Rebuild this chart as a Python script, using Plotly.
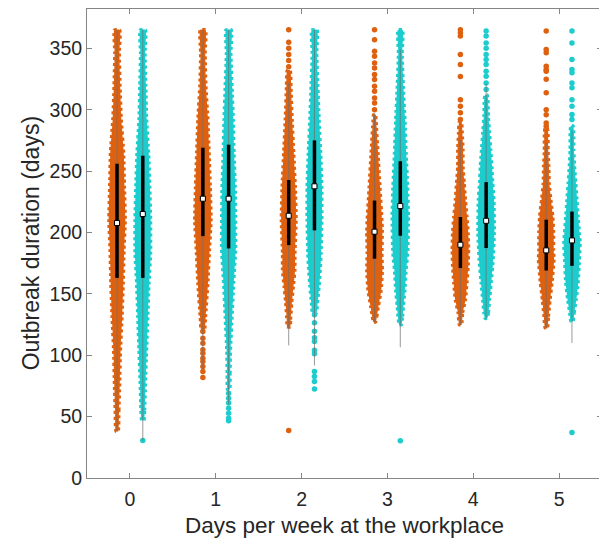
import plotly.graph_objects as go

# ---------------- data ----------------
days = [0, 1, 2, 3, 4, 5]
tick_labels = ["0", "1", "2", "3", "4", "5"]

# summary statistics (days)
median_orange = [207.7, 227.5, 213.6, 200.6, 190.0, 185.4]
q1_orange = [163.0, 197.0, 189.7, 178.6, 171.0, 169.0]
q3_orange = [256.0, 269.0, 242.7, 226.0, 212.6, 210.4]
whisk_lo_orange = [38.0, 89.0, 108.0, 127.0, 124.7, 122.0]
whisk_hi_orange = [365.0, 365.0, 322.0, 297.0, 275.5, 272.5]

median_cyan = [215.0, 227.5, 237.6, 221.5, 209.5, 193.5]
q1_cyan = [163.0, 187.0, 201.7, 197.3, 187.3, 172.8]
q3_cyan = [262.5, 271.5, 275.0, 258.0, 241.0, 217.0]
whisk_lo_cyan = [30.5, 60.0, 91.6, 106.5, 130.0, 110.0]
whisk_hi_cyan = [365.0, 365.0, 365.0, 349.0, 321.0, 283.0]

# density profiles: levels (days) and relative width
levels_orange = [
    [38, 55, 77, 104, 131.5, 159, 186, 210, 237.5, 265, 292, 319, 346.5, 365],
    [120, 131, 159, 186, 210, 237, 265, 292, 319, 346, 365],
    [123, 129, 142.7, 156, 169.6, 183, 210, 237, 265, 292, 319, 332],
    [127, 131.5, 139.7, 153, 169.6, 183, 200, 210, 237, 265, 292, 296],
    [124.7, 134.5, 145, 159, 172.3, 186, 199.7, 212.8, 226.7, 240.4, 253.8, 267.4, 281, 290],
    [122, 131.5, 145, 159, 177.8, 186, 200, 212.8, 226.7, 240, 254, 267, 281, 285],
]
dens_orange = [
    [3, 5, 7, 9, 13, 16, 18, 21, 19, 17, 11, 8, 6, 7],
    [4, 7, 13, 17, 21, 19, 16, 13, 8, 6, 7],
    [4, 5, 8, 12, 16, 16, 19, 17, 13, 9, 6, 4],
    [3, 6, 10, 17, 20, 19, 20, 19, 14, 9, 4, 3],
    [3, 6, 13, 17, 20, 21, 20, 17, 13, 10, 7, 7, 5, 3],
    [3, 6, 10, 15, 20, 19, 19, 17, 12, 8, 7, 5, 5, 3],
]
levels_cyan = [
    [47, 55, 77, 104, 131.5, 159, 183, 210, 237.5, 265, 292, 319, 346.5, 365],
    [72, 85, 104, 131, 159, 186, 210, 237, 265, 292, 319, 346, 365],
    [134.5, 142.7, 156, 169.6, 183, 210, 237, 265, 292, 319, 346, 365],
    [124.8, 131.5, 139.7, 153, 169.6, 183, 213, 237, 265, 292, 319, 346, 365],
    [130, 134.5, 145, 159, 177.8, 200, 226.7, 240.4, 253.8, 267.4, 281, 294.6, 308, 312],
    [127.5, 134.5, 145, 159, 177.8, 191.5, 200, 212.8, 226.7, 240, 254, 267, 281, 287],
]
dens_cyan = [
    [3, 5, 7, 10, 13, 16, 20, 20, 18, 15, 10, 8, 6, 7],
    [3, 4, 5, 9, 13, 18, 18, 17, 14, 12, 9, 6, 7],
    [5, 8, 12, 15, 17, 19, 19, 16, 12, 9, 6, 7],
    [3, 6, 8, 12, 15, 19, 21, 19, 15, 12, 8, 5, 6],
    [3, 6, 9, 13, 18, 21, 20, 17, 15, 12, 9, 6, 5, 3],
    [3, 6, 11, 16, 19, 21, 19, 16, 13, 10, 7, 5, 5, 3],
]

# sparse individual outbreaks outside the dense body (days)
sparse_orange = [
    [],
    [119.3, 113.9, 109.8, 104.4, 101.7, 97.6, 94.8, 90.8, 86.7, 81.8],
    [335, 340, 345, 350, 355, 365, 38.6],
    [300, 305.5, 309.6, 315, 319, 324.6, 328.6, 334, 338, 343.5, 347.6, 357, 365],
    [292, 297.4, 302.8, 308, 327, 336.8, 345, 360, 362.6, 365],
    [286.4, 289.2, 295.9, 300, 313.7, 324.7, 331.3, 332.7, 335.4, 346.3, 349, 364],
]
sparse_cyan = [
    [30.5],
    [69, 65, 61, 56.8, 52.8, 48.7, 46.7],
    [132.9, 126.4, 119.5, 114.2, 111.1, 104, 101.3, 86.7, 82.6, 78.5, 72.5],
    [30.4],
    [316.4, 321.8, 327.2, 331.3, 336.8, 340.8, 345, 350, 354.4, 360, 364],
    [292, 296, 302.8, 308, 317.8, 321.8, 330, 332.7, 340.8, 354.4, 364, 37],
]

# ---------------- styling ----------------
ORANGE = "#DD6110"
CYAN = "#1DCDCD"
OFFSET = 0.15
HALF_MAX = 0.097
DENS_MAX = 21.0
FONT = "Liberation Sans, Arial, Helvetica, sans-serif"

fig = go.Figure()


def add_violin(xc, levels, dens, sparse, q1, med, q3, wlo, whi, color):
    hw = [d / DENS_MAX * HALF_MAX for d in dens]
    xs = [xc + h for h in hw] + [xc - h for h in reversed(hw)]
    ys = list(levels) + list(reversed(levels))
    fig.add_trace(go.Scatter(
        x=xs + [xs[0]], y=ys + [ys[0]], mode="lines", fill="toself",
        fillcolor=color,
        line=dict(color=color, width=3, dash="dot", shape="spline", smoothing=0.5),
        hoverinfo="skip", showlegend=False))
    if sparse:
        fig.add_trace(go.Scatter(
            x=[xc] * len(sparse), y=sparse, mode="markers",
            marker=dict(color=color, size=5.5, line=dict(width=0)),
            hoverinfo="skip", showlegend=False))
    fig.add_trace(go.Scatter(
        x=[xc, xc], y=[wlo, whi], mode="lines",
        line=dict(color="rgba(110,110,110,0.7)", width=1),
        hoverinfo="skip", showlegend=False))
    fig.add_trace(go.Scatter(
        x=[xc, xc], y=[q1, q3], mode="lines",
        line=dict(color="black", width=3.5),
        hoverinfo="skip", showlegend=False))
    fig.add_trace(go.Scatter(
        x=[xc], y=[med], mode="markers",
        marker=dict(symbol="square", color="white", size=5, line=dict(color="black", width=1)),
        hoverinfo="skip", showlegend=False))


for i, d in enumerate(days):
    add_violin(d - OFFSET, levels_orange[i], dens_orange[i], sparse_orange[i],
               q1_orange[i], median_orange[i], q3_orange[i],
               whisk_lo_orange[i], whisk_hi_orange[i], ORANGE)
    add_violin(d + OFFSET, levels_cyan[i], dens_cyan[i], sparse_cyan[i],
               q1_cyan[i], median_cyan[i], q3_cyan[i],
               whisk_lo_cyan[i], whisk_hi_cyan[i], CYAN)

axis_common = dict(
    showline=True, linecolor="#858585", linewidth=1, mirror="ticks",
    ticks="inside", ticklen=5, tickcolor="#858585", showgrid=False, zeroline=False,
    automargin=False,
    tickfont=dict(family=FONT, size=19.5, color="#262626"),
)

# the page body adds an 8 px offset, so the figure is a little smaller than the window
fig.update_layout(
    width=599, height=530,
    margin=dict(l=79, r=5, t=1, b=60),
    paper_bgcolor="white", plot_bgcolor="white",
    font=dict(family=FONT, color="#262626"),
    xaxis=dict(range=[-0.5, 5.5], tickvals=days, ticktext=tick_labels,
               ticklabelstandoff=4, **axis_common),
    yaxis=dict(range=[0, 382], tickvals=[0, 50, 100, 150, 200, 250, 300, 350],
               ticklabelstandoff=0, **axis_common),
    annotations=[
        dict(text="Days per week at the workplace", xref="paper", yref="paper",
             x=0.5, y=-0.101, xanchor="center", yanchor="middle", showarrow=False,
             font=dict(family=FONT, size=22.5, color="#262626")),
        dict(text="Outbreak duration (days)", xref="paper", yref="paper",
             x=-0.109, y=0.5, xanchor="center", yanchor="middle", textangle=-90,
             showarrow=False, font=dict(family=FONT, size=23, color="#262626")),
    ],
)

fig.write_html("out.html")
